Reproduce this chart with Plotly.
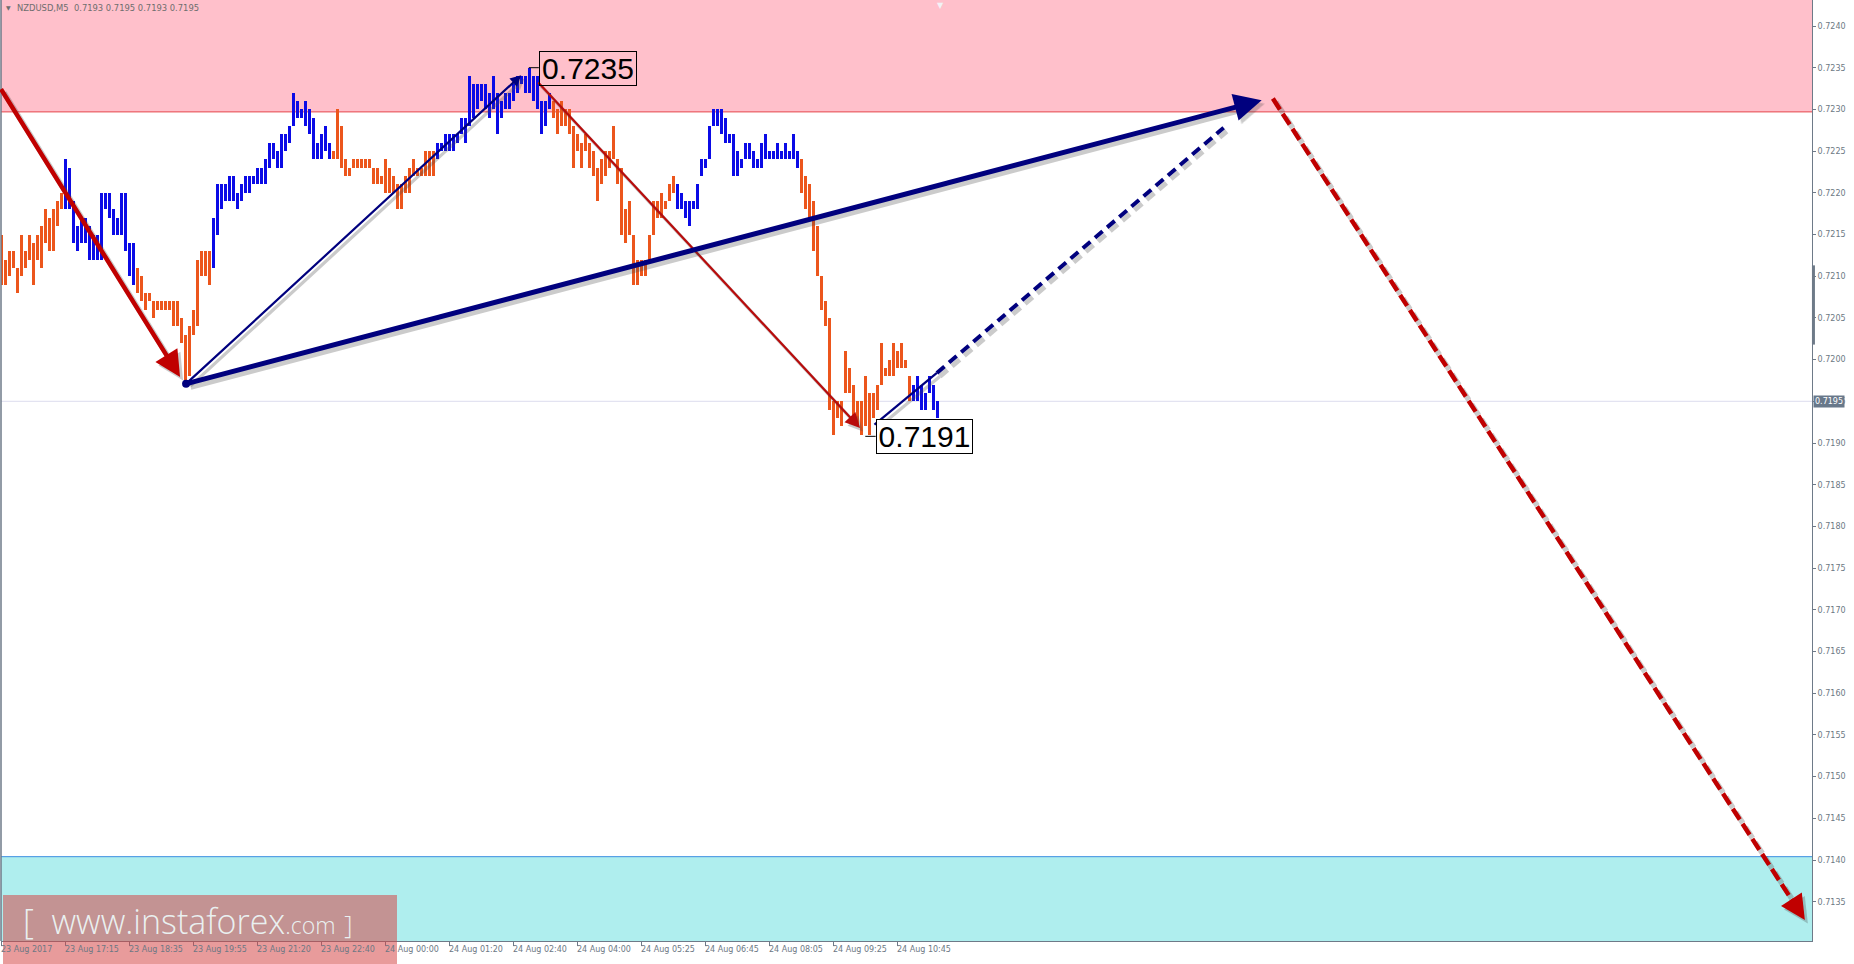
import plotly.graph_objects as go

# ---------------- data ----------------
symbol = "NZDUSD,M5"
header_ohlc = ["0.7193", "0.7195", "0.7193", "0.7195"]

bar_high = [
    0.7215, 0.7212, 0.7213, 0.7213, 0.7211, 0.7215, 0.7213, 0.7215, 0.7214, 0.7215,
    0.7216, 0.7218, 0.7217, 0.7218, 0.7219, 0.7220, 0.7224, 0.7223, 0.7219, 0.7216,
    0.7217, 0.7217, 0.7216, 0.7215, 0.7215, 0.7220, 0.7220, 0.7220, 0.7218, 0.7217,
    0.7220, 0.7220, 0.7214, 0.7214, 0.7211, 0.7210, 0.7208, 0.7208, 0.7207, 0.7207,
    0.7207, 0.7207, 0.7207, 0.7207, 0.7207, 0.7205, 0.7203, 0.7204, 0.7206, 0.7212,
    0.7213, 0.7213, 0.7213, 0.7217, 0.7221, 0.7221, 0.7221, 0.7222, 0.7222, 0.7220,
    0.7221, 0.7222, 0.7222, 0.7222, 0.7223, 0.7223, 0.7224, 0.7226, 0.7226, 0.7225,
    0.7227, 0.7227, 0.7228, 0.7232, 0.7231, 0.7230, 0.7231, 0.7230, 0.7229, 0.7226,
    0.7227, 0.7228, 0.7226, 0.7225, 0.7230, 0.7228, 0.7224, 0.7223, 0.7224, 0.7224,
    0.7224, 0.7224, 0.7224, 0.7223, 0.7223, 0.7222, 0.7224, 0.7223, 0.7222, 0.7221,
    0.7221, 0.7222, 0.7223, 0.7224, 0.7223, 0.7223, 0.7225, 0.7225, 0.7225, 0.7226,
    0.7226, 0.7227, 0.7227, 0.7227, 0.7227, 0.7229, 0.7229, 0.7234, 0.7233, 0.7233,
    0.7233, 0.7233, 0.7232, 0.7234, 0.7232, 0.7231, 0.7232, 0.7232, 0.7233, 0.7234,
    0.7234, 0.7234, 0.7235, 0.7234, 0.7234, 0.7231, 0.7231, 0.7232, 0.7231, 0.7230,
    0.7231, 0.7230, 0.7230, 0.7228, 0.7227, 0.7226, 0.7227, 0.7226, 0.7225, 0.7223,
    0.7224, 0.7225, 0.7225, 0.7228, 0.7224, 0.7223, 0.7218, 0.7219, 0.7215, 0.7212,
    0.7212, 0.7212, 0.7215, 0.7219, 0.7219, 0.7220, 0.7219, 0.7221, 0.7222, 0.7221,
    0.7220, 0.7219, 0.7219, 0.7219, 0.7221, 0.7224, 0.7224, 0.7228, 0.7230, 0.7230,
    0.7230, 0.7229, 0.7227, 0.7227, 0.7225, 0.7224, 0.7226, 0.7226, 0.7225, 0.7224,
    0.7226, 0.7227, 0.7225, 0.7225, 0.7226, 0.7225, 0.7226, 0.7225, 0.7227, 0.7225,
    0.7224, 0.7222, 0.7221, 0.7219, 0.7216, 0.7210, 0.7207, 0.7205, 0.7195, 0.7195,
    0.7195, 0.7201, 0.7199, 0.7197, 0.7195, 0.7195, 0.7198, 0.7196, 0.7196, 0.7197,
    0.7202, 0.7199, 0.7200, 0.7202, 0.7201, 0.7202, 0.7200, 0.7198, 0.7197, 0.7198,
    0.7197, 0.7196, 0.7198, 0.7197, 0.7195,
]
bar_low = [
    0.7209, 0.7209, 0.7210, 0.7211, 0.7208, 0.7210, 0.7211, 0.7212, 0.7209, 0.7212,
    0.7211, 0.7214, 0.7213, 0.7213, 0.7216, 0.7218, 0.7218, 0.7218, 0.7214, 0.7213,
    0.7214, 0.7214, 0.7212, 0.7212, 0.7212, 0.7212, 0.7218, 0.7217, 0.7215, 0.7215,
    0.7215, 0.7213, 0.7210, 0.7209, 0.7208, 0.7207, 0.7206, 0.7207, 0.7205, 0.7206,
    0.7206, 0.7206, 0.7206, 0.7204, 0.7204, 0.7202, 0.7197, 0.7198, 0.7203, 0.7204,
    0.7210, 0.7210, 0.7209, 0.7211, 0.7215, 0.7218, 0.7219, 0.7219, 0.7219, 0.7218,
    0.7219, 0.7220, 0.7220, 0.7221, 0.7221, 0.7221, 0.7221, 0.7223, 0.7224, 0.7223,
    0.7223, 0.7225, 0.7226, 0.7228, 0.7229, 0.7229, 0.7228, 0.7227, 0.7224, 0.7224,
    0.7224, 0.7225, 0.7224, 0.7224, 0.7224, 0.7223, 0.7222, 0.7222, 0.7223, 0.7223,
    0.7223, 0.7223, 0.7223, 0.7221, 0.7221, 0.7221, 0.7220, 0.7220, 0.7220, 0.7218,
    0.7218, 0.7220, 0.7220, 0.7222, 0.7222, 0.7222, 0.7222, 0.7222, 0.7222, 0.7224,
    0.7225, 0.7225, 0.7225, 0.7225, 0.7226, 0.7227, 0.7226, 0.7228, 0.7229, 0.7230,
    0.7231, 0.7230, 0.7229, 0.7230, 0.7227, 0.7229, 0.7230, 0.7230, 0.7231, 0.7232,
    0.7233, 0.7232, 0.7232, 0.7231, 0.7230, 0.7227, 0.7228, 0.7230, 0.7229, 0.7227,
    0.7228, 0.7228, 0.7227, 0.7223, 0.7225, 0.7223, 0.7225, 0.7223, 0.7222, 0.7219,
    0.7221, 0.7222, 0.7223, 0.7224, 0.7221, 0.7215, 0.7214, 0.7215, 0.7209, 0.7209,
    0.7210, 0.7210, 0.7212, 0.7215, 0.7217, 0.7217, 0.7218, 0.7219, 0.7220, 0.7218,
    0.7218, 0.7217, 0.7216, 0.7218, 0.7218, 0.7222, 0.7223, 0.7224, 0.7228, 0.7228,
    0.7227, 0.7226, 0.7226, 0.7222, 0.7222, 0.7223, 0.7224, 0.7224, 0.7223, 0.7223,
    0.7223, 0.7224, 0.7224, 0.7224, 0.7224, 0.7224, 0.7224, 0.7224, 0.7224, 0.7223,
    0.7220, 0.7218, 0.7217, 0.7213, 0.7210, 0.7206, 0.7204, 0.7194, 0.7191, 0.7193,
    0.7192, 0.7196, 0.7196, 0.7193, 0.7192, 0.7191, 0.7192, 0.7191, 0.7193, 0.7194,
    0.7197, 0.7198, 0.7198, 0.7198, 0.7199, 0.7199, 0.7199, 0.7195, 0.7195, 0.7195,
    0.7194, 0.7194, 0.7196, 0.7194, 0.7193,
]

# zigzag colouring: first bar of each leg and the colour group of that leg
wave_start = [0, 16, 34, 53, 83, 109, 138, 169, 200, 228]
wave_group = ["orange", "blue", "orange", "blue", "orange", "blue", "orange", "blue", "orange", "blue"]

time_label_bar = [0, 16, 32, 48, 64, 80, 96, 112, 128, 144, 160, 176, 192, 208, 224]
time_labels = ["23 Aug 2017", "23 Aug 17:15", "23 Aug 18:35", "23 Aug 19:55", "23 Aug 21:20",
               "23 Aug 22:40", "24 Aug 00:00", "24 Aug 01:20", "24 Aug 02:40", "24 Aug 04:00",
               "24 Aug 05:25", "24 Aug 06:45", "24 Aug 08:05", "24 Aug 09:25", "24 Aug 10:45"]

price_ticks = [0.7135, 0.7140, 0.7145, 0.7150, 0.7155, 0.7160, 0.7165, 0.7170, 0.7175, 0.7180,
               0.7185, 0.7190, 0.7195, 0.7200, 0.7205, 0.7210, 0.7215, 0.7220, 0.7225, 0.7230,
               0.7235, 0.7240]
price_tick_text = ["0.7135", "0.7140", "0.7145", "0.7150", "0.7155", "0.7160", "0.7165", "0.7170",
                   "0.7175", "0.7180", "0.7185", "0.7190", "0.7195", "0.7200", "0.7205", "0.7210",
                   "0.7215", "0.7220", "0.7225", "0.7230", "0.7235", "0.7240"]

resistance_level = 0.72297
support_level = 0.71404
last_price = 0.7195
last_price_text = "0.7195"
peak_text, peak_price, peak_bar = "0.7235", 0.7235, 132
trough_text, trough_price, trough_bar = "0.7191", 0.7191, 215

# wave arrows: (bar index, price) end points
arrow_prev_down = [(-0.4, 0.72326), (44.6, 0.71979)]
arrow_big_up = [(46.1, 0.71971), (315.0, 0.72311)]
arrow_sub_up = [(46.1, 0.71971), (129.9, 0.72341)]
arrow_sub_down = [(133.8, 0.72334), (214.6, 0.71918)]
line_now_up = [(218.2, 0.71922), (233.8, 0.71984)]
line_now_up_forecast = [(233.8, 0.71984), (305.5, 0.72278)]
arrow_forecast_down = [(317.8, 0.72313), (450.8, 0.71328)]
pivot_point = (46.1, 0.71971)

# ---------------- layout geometry ----------------
W, H = 1854, 964
ML, MR, MT, MB = 1, 42, 0, 23
PX_PER_BAR = 4.0
PX_PER_PRICE = 83400.0
BAR0_PX = 1.67            # pixel of bar 0
P_REF, P_REF_PX = 0.7240, 26.0
X_LO = (ML - BAR0_PX) / PX_PER_BAR
X_HI = (W - MR - BAR0_PX) / PX_PER_BAR
Y_HI = P_REF + (P_REF_PX - MT) / PX_PER_PRICE
Y_LO = P_REF - (H - MB - P_REF_PX) / PX_PER_PRICE
PLOT_W = W - ML - MR
PLOT_H = H - MT - MB


def px_x(px):
    return (px - ML) / PLOT_W


def px_y(py):
    return (H - MB - py) / PLOT_H


ORANGE = "#EC561C"
BLUE = "#0B0BE6"
NAVY = "#00007E"
DARKRED = "#C00000"
THINRED = "#B80C0C"
SHADOW = "rgba(70,70,70,0.28)"
AXIS_LINE = "#6E7A88"
AXIS_TEXT = "#6C7884"
SH_DK = 3.0 / PX_PER_BAR
SH_DP = -3.5 / PX_PER_PRICE

fig = go.Figure()

# ---------------- zones ----------------
fig.add_shape(type="rect", xref="paper", yref="y", x0=0, x1=1, y0=resistance_level, y1=Y_HI + 0.001,
              fillcolor="#FFC0CB", line=dict(width=0), layer="below")
fig.add_shape(type="rect", xref="paper", yref="y", x0=0, x1=1, y0=Y_LO - 0.001, y1=support_level,
              fillcolor="#AFEEEE", line=dict(width=0), layer="below")
fig.add_shape(type="line", xref="paper", yref="y", x0=0, x1=1, y0=resistance_level, y1=resistance_level,
              line=dict(color="#E5484C", width=1), layer="below")
fig.add_shape(type="line", xref="paper", yref="y", x0=0, x1=1, y0=support_level, y1=support_level,
              line=dict(color="#3D8FE0", width=1), layer="below")
fig.add_shape(type="line", xref="paper", yref="y", x0=0, x1=1, y0=last_price, y1=last_price,
              line=dict(color="#DCDCEE", width=1), layer="below")

# ---------------- price bars ----------------
bar_group = []
for i in range(len(bar_high)):
    leg = max(j for j, s in enumerate(wave_start) if s <= i)
    bar_group.append(wave_group[leg])
for key, col in (("orange", ORANGE), ("blue", BLUE)):
    idx = [i for i, g in enumerate(bar_group) if g == key]
    fig.add_trace(go.Bar(
        x=idx,
        y=[bar_high[i] - bar_low[i] for i in idx],
        base=[bar_low[i] for i in idx],
        width=0.68,
        marker=dict(color=col, line=dict(width=0)),
        hoverinfo="skip",
    ))


def px_dir(p_from, p_to):
    dx = (p_to[0] - p_from[0]) * PX_PER_BAR
    dy = -(p_to[1] - p_from[1]) * PX_PER_PRICE
    n = (dx * dx + dy * dy) ** 0.5
    return dx / n, dy / n


def back_off(p_from, p_to, px):
    ux, uy = px_dir(p_from, p_to)
    return (p_to[0] - ux * px / PX_PER_BAR, p_to[1] + uy * px / PX_PER_PRICE)


def shift(p):
    return (p[0] + SH_DK, p[1] + SH_DP)


def solid_arrow(pts, color, width, size, shadow=True):
    p0, p1 = pts
    layers = []
    if shadow:
        layers.append((shift(p0), shift(p1), SHADOW, width + 1))
    layers.append((p0, p1, color, width))
    for a, b, c, w in layers:
        fig.add_annotation(x=b[0], y=b[1], ax=a[0], ay=a[1], xref="x", yref="y", axref="x", ayref="y",
                           text="", showarrow=True, arrowhead=2, arrowsize=size * width / w, arrowwidth=w,
                           arrowcolor=c, standoff=0)


def dashed_line(pts, color, width, dash, head=None, shadow=True):
    p0, p1 = pts
    end = p1
    if head is not None:
        end = back_off(p0, p1, head[1] * 0.8)
    if shadow:
        s0, s1 = shift(p0), shift(end)
        fig.add_shape(type="line", x0=s0[0], y0=s0[1], x1=s1[0], y1=s1[1],
                      line=dict(color=SHADOW, width=width + 1, dash=dash), layer="above")
    fig.add_shape(type="line", x0=p0[0], y0=p0[1], x1=end[0], y1=end[1],
                  line=dict(color=color, width=width, dash=dash), layer="above")
    if head is not None:
        size, length = head
        ux, uy = px_dir(p0, p1)
        for tip, c in ((shift(p1), SHADOW), (p1, color)):
            fig.add_annotation(x=tip[0], y=tip[1], ax=-ux * length, ay=-uy * length, xref="x", yref="y",
                               text="", showarrow=True, arrowhead=2, arrowsize=size, arrowwidth=width,
                               arrowcolor=c, standoff=0)


# ---------------- wave marks ----------------
solid_arrow(arrow_prev_down, DARKRED, 4.5, 1.15)
solid_arrow(arrow_sub_up, NAVY, 2.2, 1.0)
solid_arrow(arrow_sub_down, THINRED, 2.2, 1.35)
solid_arrow(arrow_big_up, NAVY, 5, 1.1)
dashed_line(line_now_up, NAVY, 2.2, None)
dashed_line(line_now_up_forecast, NAVY, 4, "10px,6px")
dashed_line(arrow_forecast_down, DARKRED, 4.5, "13px,5px", head=(1.1, 24))

fig.add_trace(go.Scatter(x=[pivot_point[0]], y=[pivot_point[1]], mode="markers",
                         marker=dict(color=NAVY, size=8), hoverinfo="skip"))

# price labels with leader lines
fig.add_shape(type="line", x0=peak_bar - 0.2, x1=peak_bar + 2.3, y0=peak_price, y1=peak_price,
              line=dict(color="black", width=1), layer="above")
fig.add_annotation(x=peak_bar + 2.3, y=peak_price, xref="x", yref="y", text=peak_text, showarrow=False,
                   xanchor="left", yanchor="middle", width=96, align="center",
                   font=dict(family="Liberation Sans", size=30, color="black"),
                   bordercolor="black", borderwidth=1, borderpad=0, yshift=-1)
fig.add_shape(type="line", x0=trough_bar + 0.9, x1=trough_bar + 3.5, y0=trough_price - 0.00002,
              y1=trough_price - 0.00002, line=dict(color="black", width=1), layer="above")
fig.add_annotation(x=trough_bar + 3.5, y=trough_price, xref="x", yref="y", text=trough_text, showarrow=False,
                   xanchor="left", yanchor="middle", width=95, align="center",
                   font=dict(family="Liberation Sans", size=30, color="black"),
                   bordercolor="black", borderwidth=1, borderpad=0, bgcolor="white", yshift=-2)

# ---------------- axes decoration ----------------
fig.add_shape(type="line", xref="paper", yref="paper", x0=0, x1=0, y0=0, y1=1,
              line=dict(color=AXIS_LINE, width=1.5))
fig.add_shape(type="line", xref="paper", yref="y", x0=1.0008, x1=1.0008, y0=0.72113, y1=0.72018,
              line=dict(color=AXIS_LINE, width=3))

fig.add_annotation(xref="paper", yref="y", x=1, y=last_price, text=last_price_text, showarrow=False,
                   xanchor="left", yanchor="middle", xshift=1, bgcolor="#68788A", borderpad=1,
                   font=dict(family="DejaVu Sans", size=8, color="white"))

for b, lab in zip(time_label_bar, time_labels):
    fig.add_annotation(x=b, y=0, xref="x", yref="paper", text=lab, showarrow=False,
                       xanchor="left", yanchor="top", xshift=-2, yshift=-3, borderpad=0,
                       font=dict(family="DejaVu Sans", size=8, color=AXIS_TEXT))

# header
fig.add_annotation(xref="paper", yref="paper", x=px_x(4), y=1, text="\u25BC", showarrow=False,
                   xanchor="left", yanchor="top", yshift=-2, font=dict(family="DejaVu Sans", size=6, color="#6E6E6E"))
fig.add_annotation(xref="paper", yref="paper", x=px_x(15), y=1,
                   text=symbol + "  " + " ".join(header_ohlc), showarrow=False,
                   xanchor="left", yanchor="top", yshift=-1, font=dict(family="DejaVu Sans", size=8.4, color="#6E6E6E"))
# chart-shift marker
fig.add_annotation(xref="paper", yref="paper", x=px_x(940), y=1, text="\u25BC", showarrow=False,
                   xanchor="center", yanchor="top", yshift=1, font=dict(family="DejaVu Sans", size=8, color="#F2F2F6"))

# watermark
fig.add_shape(type="rect", xref="paper", yref="paper",
              x0=px_x(3), x1=px_x(397), y0=px_y(895), y1=px_y(966),
              fillcolor="rgba(212,70,70,0.54)", line=dict(width=0), layer="above")
fig.add_annotation(xref="paper", yref="paper", x=px_x(22), y=px_y(945),
                   text='[  www.instaforex<span style="font-size:23px">.com</span>'
                        ' <span style="font-size:26px">]</span>',
                   showarrow=False, xanchor="left", yanchor="bottom", borderpad=0,
                   font=dict(family="Open Sans", size=34, weight=300, color="rgba(238,250,250,0.92)"))

fig.update_layout(
    width=W, height=H, autosize=False,
    margin=dict(l=ML, r=MR, t=MT, b=MB, pad=0),
    paper_bgcolor="white", plot_bgcolor="white",
    showlegend=False, barmode="overlay", bargap=0,
    font=dict(family="DejaVu Sans", size=8, color=AXIS_TEXT),
    xaxis=dict(range=[X_LO, X_HI], showgrid=False, zeroline=False, showline=True, linecolor=AXIS_LINE,
               linewidth=1, tickmode="array", tickvals=time_label_bar, ticks="outside", ticklen=4,
               tickcolor=AXIS_LINE, showticklabels=False, fixedrange=True),
    yaxis=dict(side="right", range=[Y_LO, Y_HI], showgrid=False, zeroline=False, showline=True,
               linecolor=AXIS_LINE, linewidth=1, tickmode="array", tickvals=price_ticks,
               ticktext=price_tick_text, ticks="outside", ticklen=3, tickcolor=AXIS_LINE,
               tickfont=dict(family="DejaVu Sans", size=8, color=AXIS_TEXT), fixedrange=True),
)

fig.write_html("out.html", config={"displayModeBar": False},
               post_script="document.body.style.margin='0px';document.body.style.overflow='hidden';")
